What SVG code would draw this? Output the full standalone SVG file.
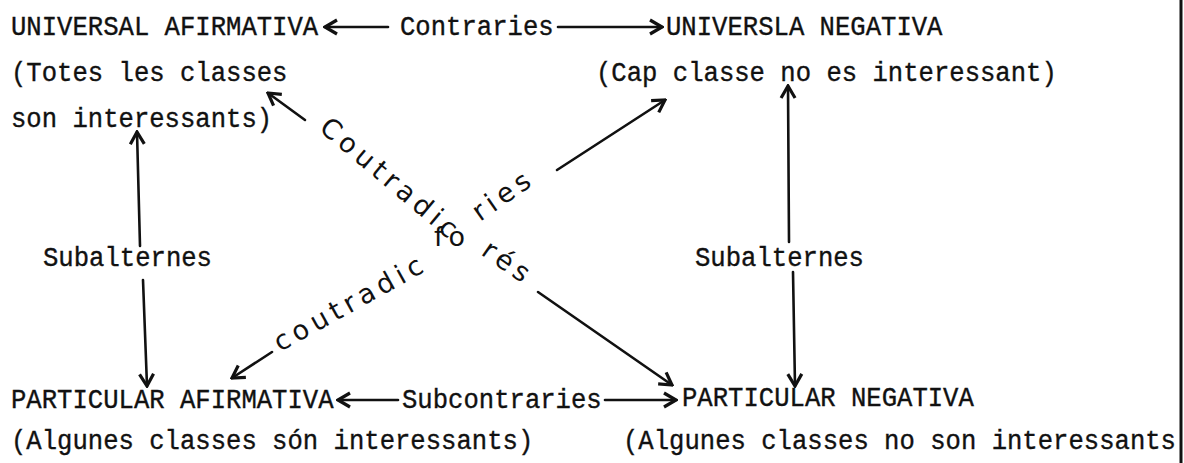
<svg xmlns="http://www.w3.org/2000/svg" width="1184" height="463" viewBox="0 0 1184 463">
<style>
.tw{font-family:"Liberation Mono","DejaVu Sans Mono",monospace;font-size:25.6px;fill:#111;stroke:#111;stroke-width:0.35;}
.hw{font-family:"DejaVu Sans","Liberation Sans",sans-serif;font-size:27px;fill:#111;letter-spacing:5px;}
.ln{stroke:#111;stroke-width:2.6;fill:none;stroke-linecap:round;}
</style>
<defs>
<marker id="ah" markerUnits="userSpaceOnUse" markerWidth="18" markerHeight="18" viewBox="0 0 18 18" refX="16" refY="9" orient="auto">
<path d="M4,2 L16,9 L4,16" fill="none" stroke="#111" stroke-width="3.2" stroke-linejoin="miter"/>
</marker>
</defs>
<rect width="1184" height="463" fill="#fff"/>
<g id="ua">
<text class="tw" transform="translate(11,35) scale(1,1.1)">UNIVERSAL AFIRMATIVA</text>
<text class="tw" transform="translate(11,81) scale(1,1.1)">(Totes les classes</text>
<text class="tw" transform="translate(11,127) scale(1,1.1)">son interessants)</text>
</g>
<g id="un">
<text class="tw" transform="translate(666,35) scale(1,1.1)">UNIVERSLA NEGATIVA</text>
<text class="tw" transform="translate(596,81) scale(1,1.1)">(Cap classe no es interessant)</text>
</g>
<g id="pa">
<text class="tw" transform="translate(11,408) scale(1,1.1)">PARTICULAR AFIRMATIVA</text>
<text class="tw" transform="translate(11,449) scale(1,1.1)">(Algunes classes són interessants)</text>
</g>
<g id="pn">
<text class="tw" transform="translate(682,406) scale(1,1.1)">PARTICULAR NEGATIVA</text>
<text class="tw" transform="translate(623,449) scale(1,1.1)">(Algunes classes no son interessants</text>
</g>
<g id="connectors">
<text class="tw" transform="translate(400,35) scale(1,1.1)">Contraries</text>
<line class="ln" x1="388" y1="27" x2="325" y2="27" marker-end="url(#ah)"/>
<line class="ln" x1="558" y1="27" x2="662" y2="27" marker-end="url(#ah)"/>
<text class="tw" transform="translate(402,408) scale(1,1.1)">Subcontraries</text>
<line class="ln" x1="398" y1="400" x2="338" y2="400" marker-end="url(#ah)"/>
<line class="ln" x1="605" y1="400" x2="676" y2="400" marker-end="url(#ah)"/>
<text class="tw" transform="translate(43,266) scale(1,1.1)">Subalternes</text>
<line class="ln" x1="140" y1="246" x2="137" y2="132" marker-end="url(#ah)"/>
<line class="ln" x1="143" y1="280" x2="147" y2="386" marker-end="url(#ah)"/>
<text class="tw" transform="translate(695,266) scale(1,1.1)">Subalternes</text>
<line class="ln" x1="789" y1="242" x2="788" y2="86" marker-end="url(#ah)"/>
<line class="ln" x1="793" y1="272" x2="795" y2="386" marker-end="url(#ah)"/>
<line class="ln" x1="305" y1="120" x2="268" y2="93" marker-end="url(#ah)"/>
<line class="ln" x1="557" y1="170" x2="665" y2="100" marker-end="url(#ah)"/>
<line class="ln" x1="272" y1="352" x2="232" y2="378" marker-end="url(#ah)"/>
<line class="ln" x1="538" y1="292" x2="672" y2="385" marker-end="url(#ah)"/>
<text class="hw" transform="translate(318,130) rotate(40)">Coutradic</text>
<text class="hw" transform="translate(434,246)">fo</text>
<text class="hw" transform="translate(480,222) rotate(-35)">ries</text>
<text class="hw" transform="translate(280,352) rotate(-29)">coutradic</text>
<text class="hw" transform="translate(480,254) rotate(35)">rés</text>
</g>
<line x1="1181" y1="0" x2="1181" y2="463" stroke="#111" stroke-width="3"/>
</svg>
